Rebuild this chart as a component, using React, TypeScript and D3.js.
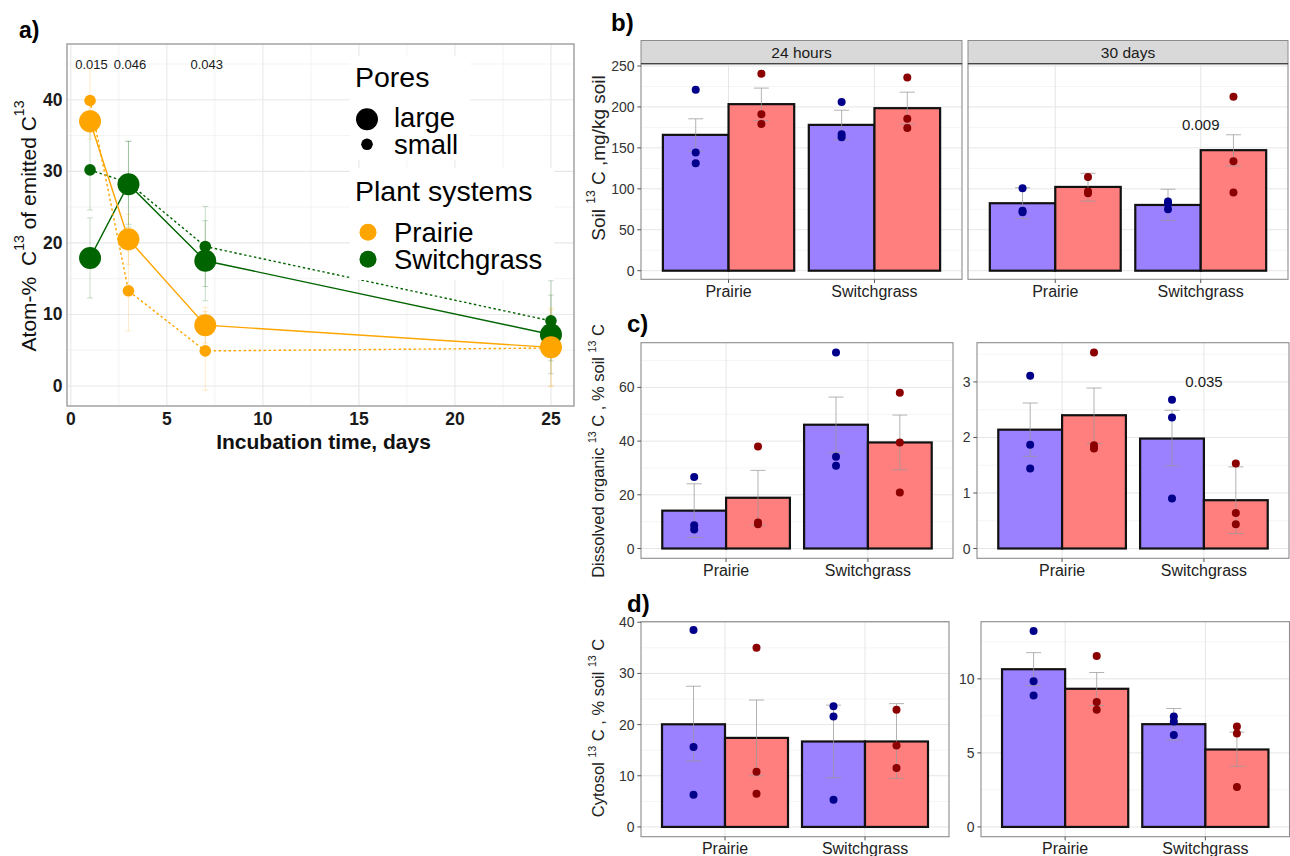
import React from 'react';
import * as d3 from 'd3';

// ---------- panel a: atom-% of emitted 13C over incubation ----------
const days = [1, 3, 7, 25];
const prairieLarge = [37, 20.5, 8.5, 5.4];
const prairieSmall = [39.9, 13.3, 4.9, 5.3];
const switchLarge = [17.9, 28.2, 17.5, 7.2];
const switchSmall = [30.2, 28.4, 19.5, 9.1];
const prairieLargeErr = [2.5, 3.5, 2.5, 5.5];
const prairieSmallErr = [4.5, 5.6, 5.5, 5.3];
const switchLargeErr = [5.6, 6.0, 5.6, 5.5];
const switchSmallErr = [5.6, 5.8, 5.6, 5.6];
const pDays = [1, 3, 7];
const pLabels = ['0.015', '0.046', '0.043'];
const xTicksA = [0, 5, 10, 15, 20, 25];
const xMinorA = [2.5, 7.5, 12.5, 17.5, 22.5];
const yTicksA = [0, 10, 20, 30, 40];
const yMinorA = [5, 15, 25, 35, 45];

// ---------- bar panels b, c, d ----------
const groups = ['Prairie', 'Switchgrass'];
const fills = ['blue', 'red'];
const facetLabels = ['24 hours', '30 days'];

// [group][fill]
const soil24hMean = [[165.9, 203.4], [178.1, 198.5]];
const soil24hPts = [[[220.9, 144.3, 131.3], [240.5, 191.2, 179.3]], [[205.9, 166.7, 163.1], [236, 185.5, 174.4]]];
const soil24hErr = [[[146, 185.5], [183.5, 223]], [[160, 196], [179, 218]]];
const soil30dMean = [[82.4, 102.3], [80.3, 147.2]];
const soil30dPts = [[[100.7, 73.3, 71.4], [114.5, 96.6, 94.6]], [[84.4, 81.5, 75.0], [212.3, 133.7, 95.4]]];
const soil30dErr = [[[63.5, 101.3], [85, 119]], [[61.6, 99.5], [128, 166]]];

const doc24hMean = [[14.1, 18.9], [46.1, 39.5]];
const doc24hPts = [[[26.6, 8.7, 7.1], [38.0, 9.7, 9.0]], [[73.0, 34.2, 30.8], [58.0, 39.5, 20.9]]];
const doc24hErr = [[[4.1, 24.1], [8.7, 29.1]], [[35.8, 56.4], [29.3, 49.7]]];
const doc30dMean = [[2.14, 2.40], [1.98, 0.87]];
const doc30dPts = [[[3.11, 1.87, 1.44], [3.53, 1.86, 1.80]], [[2.68, 2.36, 0.90], [1.53, 0.64, 0.435]]];
const doc30dErr = [[[1.66, 2.62], [1.89, 2.89]], [[1.49, 2.49], [0.27, 1.47]]];

const cyto24hMean = [[20.06, 17.4], [16.7, 16.7]];
const cyto24hPts = [[[38.5, 15.6, 6.3], [35.0, 10.8, 6.5]], [[23.6, 21.6, 5.3], [22.9, 15.9, 11.5]]];
const cyto24hErr = [[[12.9, 27.5], [10.0, 24.8]], [[9.6, 23.8], [9.5, 24.1]]];
const cyto30dMean = [[10.65, 9.33], [6.94, 5.23]];
const cyto30dPts = [[[13.24, 9.84, 8.87], [11.55, 8.43, 7.91]], [[7.46, 7.12, 6.2], [6.78, 6.31, 2.70]]];
const cyto30dErr = [[[9.55, 11.77], [8.2, 10.43]], [[5.87, 8.0], [4.1, 6.4]]];

const soilTicks = [0, 50, 100, 150, 200, 250];
const soilMinor = [25, 75, 125, 175, 225];
const doc24hTicks = [0, 20, 40, 60];
const doc24hMinor = [10, 30, 50, 70];
const doc30dTicks = [0, 1, 2, 3];
const doc30dMinor = [0.5, 1.5, 2.5, 3.5];
const cyto24hTicks = [0, 10, 20, 30, 40];
const cyto24hMinor = [5, 15, 25, 35];
const cyto30dTicks = [0, 5, 10];
const cyto30dMinor = [2.5, 7.5, 12.5];

const FONT = '"Liberation Sans", Arial, Helvetica, sans-serif';
const BAR_FILL = { blue: '#9B80FF', red: '#FF7F7F' };
const PT_FILL = { blue: '#00008B', red: '#8B0000' };
const ORANGE = '#FFA500';
const GREEN = '#006400';

function BarFacet(props) {
  const { x0, x1, top, bottom, domain, ticks, minor, means, pts, errs, note, noteY, strip, stripTop, showY = true } = props;
  const x = d3.scaleBand().domain(groups).range([x0, x1]).paddingInner(0.1).paddingOuter(0.15);
  const xs = d3.scaleBand().domain(fills).range([0, x.bandwidth()]);
  const y = d3.scaleLinear().domain(domain).range([bottom, top]);
  const centers = groups.map(g => (x(g) as number) + x.bandwidth() / 2);
  return (
    <g>
      {strip && (
        <g>
          <rect x={x0} y={stripTop} width={x1 - x0} height={top - stripTop} fill="#D9D9D9" stroke="#8c8c8c" strokeWidth={1} />
          <text x={(x0 + x1) / 2} y={(stripTop + top) / 2} textAnchor="middle" dominantBaseline="central" fontSize={15.5} fill="#1a1a1a">{strip}</text>
        </g>
      )}
      {minor.map(t => (
        <line key={'m' + t} x1={x0} x2={x1} y1={y(t)} y2={y(t)} stroke="#F3F3F3" strokeWidth={0.8} />
      ))}
      {ticks.map(t => (
        <line key={'g' + t} x1={x0} x2={x1} y1={y(t)} y2={y(t)} stroke="#E6E6E6" strokeWidth={1} />
      ))}
      {centers.map((c, i) => (
        <line key={'v' + i} x1={c} x2={c} y1={top} y2={bottom} stroke="#E6E6E6" strokeWidth={1} />
      ))}
      {groups.map((g, gi) => fills.map((f, fi) => (
        <rect key={g + f} x={(x(g) as number) + (xs(f) as number)} y={y(means[gi][fi])}
          width={xs.bandwidth()} height={y(0) - y(means[gi][fi])}
          fill={BAR_FILL[f]} stroke="#111" strokeWidth={2.2} />
      )))}
      {groups.map((g, gi) => fills.map((f, fi) => {
        const cx = (x(g) as number) + (xs(f) as number) + xs.bandwidth() / 2;
        const [lo, hi] = errs[gi][fi];
        return (
          <g key={'e' + g + f} stroke="#9a9a9a" strokeOpacity={0.75} strokeWidth={1}>
            <line x1={cx} x2={cx} y1={y(lo)} y2={y(hi)} />
            <line x1={cx - 7.5} x2={cx + 7.5} y1={y(lo)} y2={y(lo)} />
            <line x1={cx - 7.5} x2={cx + 7.5} y1={y(hi)} y2={y(hi)} />
          </g>
        );
      }))}
      {groups.map((g, gi) => fills.map((f, fi) => {
        const cx = (x(g) as number) + (xs(f) as number) + xs.bandwidth() / 2;
        return pts[gi][fi].map((v, k) => (
          <circle key={'p' + g + f + k} cx={cx} cy={y(v)} r={4} fill={PT_FILL[f]} />
        ));
      }))}
      {note && (
        <text x={centers[1]} y={y(noteY)} textAnchor="middle" dominantBaseline="central" fontSize={15} fill="#1a1a1a">{note}</text>
      )}
      <rect x={x0} y={top} width={x1 - x0} height={bottom - top} fill="none" stroke="#8c8c8c" strokeWidth={1.1} />
      {strip && <line x1={x0} x2={x1} y1={top} y2={top} stroke="#444" strokeWidth={1.3} />}
      {showY && ticks.map(t => (
        <g key={'t' + t}>
          <line x1={x0 - 3.7} x2={x0} y1={y(t)} y2={y(t)} stroke="#555" strokeWidth={1} />
          <text x={x0 - 6.5} y={y(t)} textAnchor="end" dominantBaseline="central" fontSize={14} fill="#333">{t}</text>
        </g>
      ))}
      {centers.map((c, i) => (
        <g key={'xt' + i}>
          <line x1={c} x2={c} y1={bottom} y2={bottom + 3.7} stroke="#555" strokeWidth={1} />
          <text x={c} y={bottom + 12} textAnchor="middle" dominantBaseline="central" fontSize={16} fill="#222">{groups[i]}</text>
        </g>
      ))}
    </g>
  );
}

function PanelA() {
  const left = 67, right = 574, top = 44, bottom = 406;
  const x = d3.scaleLinear().domain([-0.2, 26.2]).range([left, right]);
  const y = d3.scaleLinear().domain([-2.8, 47.8]).range([bottom, top]);
  const line = d3.line<number>().x((_, i) => x(days[i])).y(d => y(d));
  const series = [
    { vals: switchSmall, err: switchSmallErr, color: GREEN, r: 5.8, dash: '2.5,2.5' },
    { vals: switchLarge, err: switchLargeErr, color: GREEN, r: 11, dash: null },
    { vals: prairieSmall, err: prairieSmallErr, color: ORANGE, r: 5.8, dash: '2.5,2.5' },
    { vals: prairieLarge, err: prairieLargeErr, color: ORANGE, r: 11, dash: null },
  ];
  return (
    <g>
      {xMinorA.map(t => <line key={'xm' + t} x1={x(t)} x2={x(t)} y1={top} y2={bottom} stroke="#F2F2F2" strokeWidth={0.9} />)}
      {yMinorA.map(t => <line key={'ym' + t} x1={left} x2={right} y1={y(t)} y2={y(t)} stroke="#F2F2F2" strokeWidth={0.9} />)}
      {xTicksA.map(t => <line key={'xg' + t} x1={x(t)} x2={x(t)} y1={top} y2={bottom} stroke="#E8E8E8" strokeWidth={1.1} />)}
      {yTicksA.map(t => <line key={'yg' + t} x1={left} x2={right} y1={y(t)} y2={y(t)} stroke="#E8E8E8" strokeWidth={1.1} />)}
      {series.map((s, si) => s.vals.map((v, i) => (
        <g key={'err' + si + i} stroke={s.color} strokeOpacity={0.22} strokeWidth={1}>
          <line x1={x(days[i])} x2={x(days[i])} y1={y(v - s.err[i])} y2={y(v + s.err[i])} />
          <line x1={x(days[i]) - 3} x2={x(days[i]) + 3} y1={y(v - s.err[i])} y2={y(v - s.err[i])} />
          <line x1={x(days[i]) - 3} x2={x(days[i]) + 3} y1={y(v + s.err[i])} y2={y(v + s.err[i])} />
        </g>
      )))}
      {series.map((s, si) => (
        <path key={'l' + si} d={line(s.vals) || ''} fill="none" stroke={s.color} strokeWidth={1.4}
          strokeDasharray={s.dash || undefined} />
      ))}
      {series.map((s, si) => s.vals.map((v, i) => (
        <circle key={'c' + si + i} cx={x(days[i])} cy={y(v)} r={s.r} fill={s.color} />
      )))}
      {pDays.map((d, i) => (
        <text key={'p' + d} x={x(d) + 1.5} y={y(45)} textAnchor="middle" dominantBaseline="central" fontSize={13} fill="#1a1a1a">{pLabels[i]}</text>
      ))}
      <rect x={left} y={top} width={right - left} height={bottom - top} fill="none" stroke="#A8A8A8" strokeWidth={1.6} />
      {yTicksA.map(t => (
        <text key={'yl' + t} x={62.5} y={y(t)} textAnchor="end" dominantBaseline="central" fontSize={17.5} fontWeight="bold" fill="#1a1a1a">{t}</text>
      ))}
      {xTicksA.map(t => (
        <text key={'xl' + t} x={x(t)} y={419} textAnchor="middle" dominantBaseline="central" fontSize={17.5} fontWeight="bold" fill="#1a1a1a">{t}</text>
      ))}
      <text x={(left + right) / 2 + 3} y={441} textAnchor="middle" dominantBaseline="central" fontSize={21} fontWeight="bold" fill="#111">Incubation time, days</text>
      <text transform="translate(28,226) rotate(-90)" textAnchor="middle" dominantBaseline="central" fontSize={21} fill="#111">
        {'Atom-% '}<tspan dx={5}>C</tspan><tspan fontSize={14} dy={-9}>13</tspan><tspan dy={9}>{' of emitted C'}</tspan><tspan fontSize={14} dy={-9}>13</tspan>
      </text>
      {/* legend */}
      <rect x={350} y={56} width={120} height={104} fill="#fff" />
      <rect x={350} y={168} width={204} height={112} fill="#fff" />
      <text x={355} y={86.5} fontSize={28.5} fill="#000">Pores</text>
      <circle cx={367} cy={119.3} r={11} fill="#000" />
      <text x={394} y={126.5} fontSize={27.5} fill="#000">large</text>
      <circle cx={367} cy={144.3} r={5.8} fill="#000" />
      <text x={394} y={153.5} fontSize={27.5} fill="#000">small</text>
      <text x={355} y={201} fontSize={28.5} fill="#000">Plant systems</text>
      <circle cx={368} cy={232.3} r={8.5} fill={ORANGE} />
      <text x={394} y={241.5} fontSize={27.5} fill="#000">Prairie</text>
      <circle cx={368} cy={259.3} r={8.5} fill={GREEN} />
      <text x={394} y={268.5} fontSize={27.5} fill="#000">Switchgrass</text>
    </g>
  );
}

function RotTitle({ cx, cy, lead, mid, size = 16.5 }) {
  const sup = size * 0.64;
  const up = size * 0.37;
  return (
    <text transform={`translate(${cx},${cy}) rotate(-90)`} textAnchor="middle" dominantBaseline="central" fontSize={size} fill="#222">
      {lead}<tspan fontSize={sup} dy={-up}>13</tspan><tspan dy={up}>{mid}</tspan>
      {mid.includes('%') && <><tspan fontSize={sup} dy={-up}>13</tspan><tspan dy={up}>{' C'}</tspan></>}
    </text>
  );
}

export default function App() {
  return (
    <div style={{ position: 'absolute', left: 0, top: 0 }}>
      <svg width={1290} height={856} style={{ display: 'block', background: '#fff', fontFamily: FONT }}>
        <PanelA />
        <text x={19} y={38} fontSize={23} fontWeight="bold" fill="#000">a)</text>

        <text x={611} y={31} fontSize={24} fontWeight="bold" fill="#000">b)</text>
        <BarFacet x0={641} x1={962} top={63.7} bottom={279.3} domain={[-10.5, 252.8]} ticks={soilTicks} minor={soilMinor}
          means={soil24hMean} pts={soil24hPts} errs={soil24hErr} strip={facetLabels[0]} stripTop={40.5} />
        <BarFacet x0={968} x1={1288} top={63.7} bottom={279.3} domain={[-10.5, 252.8]} ticks={soilTicks} minor={soilMinor} showY={false}
          means={soil30dMean} pts={soil30dPts} errs={soil30dErr} strip={facetLabels[1]} stripTop={40.5} note="0.009" noteY={179} />
        <RotTitle cx={598} cy={158} lead={'Soil '} mid={' C ,mg/kg soil'} size={19} />

        <text x={627} y={331.5} fontSize={24} fontWeight="bold" fill="#000">c)</text>
        <BarFacet x0={641} x1={953} top={342.7} bottom={558.3} domain={[-3.65, 76.65]} ticks={doc24hTicks} minor={doc24hMinor}
          means={doc24hMean} pts={doc24hPts} errs={doc24hErr} />
        <BarFacet x0={977} x1={1289} top={342.7} bottom={558.3} domain={[-0.1765, 3.7065]} ticks={doc30dTicks} minor={doc30dMinor}
          means={doc30dMean} pts={doc30dPts} errs={doc30dErr} note="0.035" noteY={3.0} />
        <RotTitle cx={598} cy={451} lead={'Dissolved organic '} mid={' C ,  % soil '} />

        <text x={627} y={612} fontSize={24} fontWeight="bold" fill="#000">d)</text>
        <BarFacet x0={641} x1={949} top={621.7} bottom={836.7} domain={[-1.91, 40.11]} ticks={cyto24hTicks} minor={cyto24hMinor}
          means={cyto24hMean} pts={cyto24hPts} errs={cyto24hErr} />
        <BarFacet x0={981} x1={1289.5} top={621.7} bottom={836.7} domain={[-0.66, 13.86]} ticks={cyto30dTicks} minor={cyto30dMinor}
          means={cyto30dMean} pts={cyto30dPts} errs={cyto30dErr} />
        <RotTitle cx={598} cy={728} lead={'Cytosol '} mid={' C ,  % soil '} />
      </svg>
    </div>
  );
}
